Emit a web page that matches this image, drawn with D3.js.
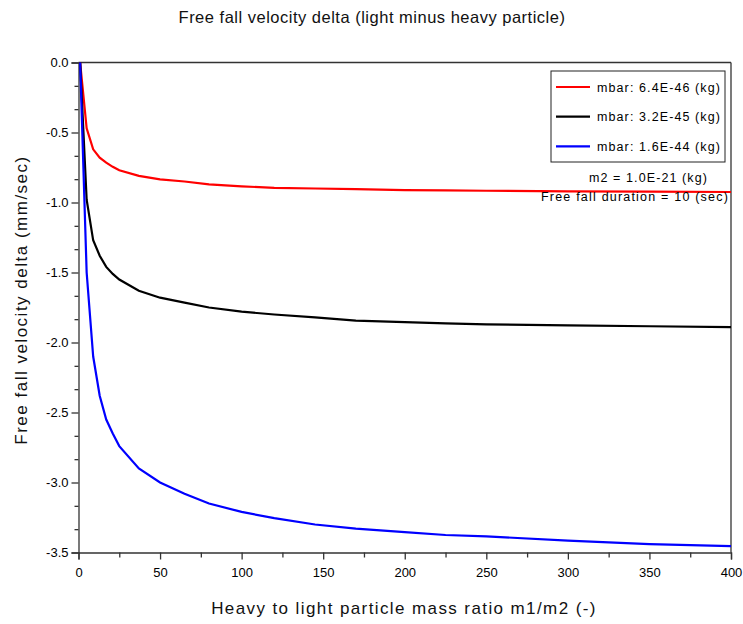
<!DOCTYPE html>
<html>
<head>
<meta charset="utf-8">
<script src="https://cdn.jsdelivr.net/npm/d3@7"></script>
<style>
  body { margin: 0; background: #fff; }
  svg { font-family: "Liberation Sans", Arial, sans-serif; }
</style>
</head>
<body>
<div id="chart"></div>
<script>
// mass ratio samples (m1/m2)
const ratios = [1, 5, 9, 13, 17, 21, 25, 37, 50, 65, 80, 100, 120, 145, 170, 200, 225, 250, 300, 350, 400];

// velocity delta (mm/sec)
const redValues   = [0, -0.47, -0.62, -0.68, -0.715, -0.745, -0.77, -0.81, -0.835, -0.85, -0.87, -0.885, -0.895, -0.90, -0.904, -0.912, -0.914, -0.916, -0.92, -0.923, -0.925];
const blackValues = [0, -0.98, -1.27, -1.38, -1.46, -1.51, -1.55, -1.63, -1.68, -1.715, -1.75, -1.78, -1.80, -1.82, -1.844, -1.855, -1.863, -1.87, -1.877, -1.884, -1.89];
const blueValues  = [0, -1.5, -2.1, -2.38, -2.55, -2.65, -2.74, -2.90, -3.00, -3.08, -3.15, -3.21, -3.255, -3.30, -3.33, -3.355, -3.375, -3.385, -3.415, -3.44, -3.455];

const seriesNames = ["mbar: 6.4E-46 (kg)", "mbar: 3.2E-45 (kg)", "mbar: 1.6E-44 (kg)"];
const seriesColors = ["#ff0000", "#000000", "#0000ff"];

const xTicks = [0, 50, 100, 150, 200, 250, 300, 350, 400];
const yTicks = [0, -0.5, -1.0, -1.5, -2.0, -2.5, -3.0, -3.5];

const canvWidth = 743, canvHeight = 624;
const margin = {top: 62.5, right: 12, bottom: 71.5, left: 78.5};
const width = canvWidth - margin.left - margin.right;
const height = canvHeight - margin.top - margin.bottom;

const svg = d3.select('#chart')
    .append('svg')
    .attr('width', canvWidth)
    .attr('height', canvHeight);

const g = svg.append('g')
    .attr('transform', `translate(${margin.left},${margin.top})`);

// scales
const x = d3.scaleLinear().domain([0, 400]).range([0, width]);
const y = d3.scaleLinear().domain([-3.5, 0]).range([height, 0]);

const axisColor = "#333";

// minor ticks
const xMinor = d3.range(25, 400, 50);
const yMinor = d3.range(1, 21).map(i => -i / 6).filter(v => Math.abs(v * 2 - Math.round(v * 2)) > 1e-6);

// X axis
const xAxis = g.append('g')
    .attr('transform', `translate(0,${height})`)
    .call(d3.axisBottom(x).tickValues(xTicks).tickFormat(d => String(d)).tickSizeOuter(0).tickSize(7));
xAxis.selectAll('text').style('font-size', '13px').attr('dy', '1.1em').attr('fill', '#000');

g.append('g')
    .attr('transform', `translate(0,${height})`)
    .call(d3.axisBottom(x).tickValues(xMinor).tickFormat('').tickSizeOuter(0).tickSize(5))
    .select('.domain').remove();

// Y axis
const yAxis = g.append('g')
    .call(d3.axisLeft(y).tickValues(yTicks).tickFormat(d => d.toFixed(1)).tickSizeOuter(0).tickSize(7));
yAxis.selectAll('text').style('font-size', '13px').attr('fill', '#000');

g.append('g')
    .call(d3.axisLeft(y).tickValues(yMinor).tickFormat('').tickSizeOuter(0).tickSize(4))
    .select('.domain').remove();

g.selectAll('.domain, .tick line').attr('stroke', axisColor).attr('stroke-width', 1.3);

// frame top and right
g.append('line').attr('x1', 0).attr('x2', width).attr('y1', 0).attr('y2', 0)
    .attr('stroke', axisColor).attr('stroke-width', 1.3);
g.append('line').attr('x1', width).attr('x2', width).attr('y1', 0).attr('y2', height)
    .attr('stroke', axisColor).attr('stroke-width', 1.3);

// curves
const allValues = [redValues, blackValues, blueValues];
const line = d3.line()
    .x(d => x(d[0]))
    .y(d => y(d[1]));

allValues.forEach((vals, i) => {
    g.append('path')
        .datum(ratios.map((r, j) => [r, vals[j]]))
        .attr('fill', 'none')
        .attr('stroke', seriesColors[i])
        .attr('stroke-width', 2.2)
        .attr('d', line);
});

// legend
const legend = svg.append('g').attr('transform', 'translate(551,71)');
legend.append('rect')
    .attr('width', 174).attr('height', 91)
    .attr('fill', '#fff').attr('stroke', '#222').attr('stroke-width', 1);
seriesNames.forEach((name, i) => {
    const ly = 16 + i * 29.7;
    legend.append('line')
        .attr('x1', 5).attr('x2', 39).attr('y1', ly).attr('y2', ly)
        .attr('stroke', seriesColors[i]).attr('stroke-width', 2.2);
    legend.append('text')
        .attr('x', 46).attr('y', ly + 4.5)
        .style('font-size', '12.5px')
        .style('letter-spacing', '1.1px')
        .text(name);
});

// annotations
svg.append('text')
    .attr('x', 708).attr('y', 182)
    .attr('text-anchor', 'end')
    .style('font-size', '12.5px')
    .style('letter-spacing', '1.1px')
    .text('m2 = 1.0E-21 (kg)');
svg.append('text')
    .attr('x', 729).attr('y', 201)
    .attr('text-anchor', 'end')
    .style('font-size', '12.5px')
    .style('letter-spacing', '1.2px')
    .text('Free fall duration = 10 (sec)');

// title
svg.append('text')
    .attr('x', 372).attr('y', 23)
    .attr('text-anchor', 'middle')
    .style('font-size', '16.5px')
    .style('letter-spacing', '0.5px')
    .attr('fill', '#111')
    .text('Free fall velocity delta (light minus heavy particle)');

// x label
svg.append('text')
    .attr('x', 404).attr('y', 614)
    .attr('text-anchor', 'middle')
    .style('font-size', '17px')
    .style('letter-spacing', '1.4px')
    .attr('fill', '#111')
    .text('Heavy to light particle mass ratio m1/m2 (-)');

// y label
svg.append('text')
    .attr('transform', 'rotate(-90)')
    .attr('x', -300).attr('y', 27)
    .attr('text-anchor', 'middle')
    .style('font-size', '17px')
    .style('letter-spacing', '1.5px')
    .attr('fill', '#111')
    .text('Free fall velocity delta (mm/sec)');
</script>
</body>
</html>
